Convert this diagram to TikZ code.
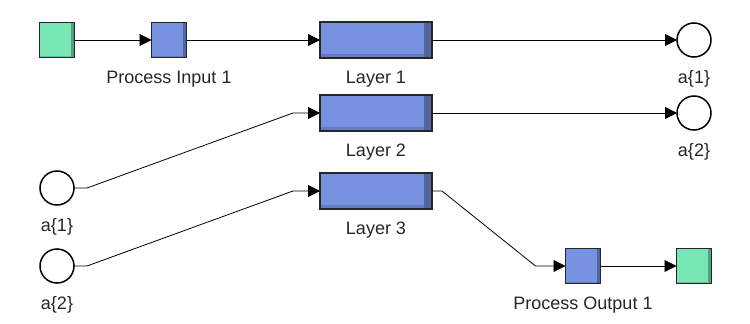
\documentclass[tikz,border=0pt]{standalone}
\usepackage{fontspec}
\setmainfont{Liberation Sans}
\usetikzlibrary{arrows.meta,positioning,calc}
\definecolor{blkgreen}{RGB}{120,230,180}
\definecolor{blkblue}{RGB}{120,146,226}
\tikzset{
  bevel/.style={path picture={
      \fill[black, opacity=0.3]
        ($(path picture bounding box.north east)+(-#1,0)$)
        rectangle (path picture bounding box.south east);
      \fill[black, opacity=0.15]
        ($(path picture bounding box.south west)+(0,#1/2)$)
        rectangle ($(path picture bounding box.south east)+(-#1,0)$);}},
  unit/.style={rectangle, draw=black!85, line width=1.6pt, fill=blkblue,
               minimum width=35pt, minimum height=35pt, inner sep=0pt,
               outer sep=0pt, bevel=3.5pt},
  port/.style={unit, fill=blkgreen},
  layer/.style={unit, minimum width=112pt, minimum height=36pt, bevel=8pt},
  signal/.style={circle, draw=black, line width=1.5pt, fill=white,
                 minimum size=34pt, inner sep=0pt, outer sep=0pt},
  arrow/.style={-{Triangle[length=12pt, width=12pt]}, line width=0.8pt}
}
\newcommand{\tagged}[3]{\node[#1, label={[anchor=base, label distance=#2,
  font=\fontsize{18}{20}\selectfont, text=black!85]below:#3}]}

\begin{document}
\begin{tikzpicture}[x=1pt, y=-1pt]
\useasboundingbox (0,0) rectangle (750,324);
% top row
\node[port] (src) at (57,40) {};
\tagged{unit}{25.5pt}{Process Input 1} (pin) at (169,40) {};
\tagged{layer}{25.5pt}{Layer 1} (lay1) at (376,40) {};
\tagged{signal}{26.5pt}{a\{1\}} (out1) at (694,40) {};
% middle rows
\tagged{layer}{25.5pt}{Layer 2} (lay2) at (376,113) {};
\tagged{signal}{26.5pt}{a\{2\}} (out2) at (694,113) {};
\tagged{signal}{26.5pt}{a\{1\}} (in1) at (57,188) {};
\tagged{layer}{25.5pt}{Layer 3} (lay3) at (376,191) {};
% bottom row
\tagged{signal}{26.5pt}{a\{2\}} (in2) at (57,266) {};
\tagged{unit}{25.5pt}{Process Output 1} (pout) at (583,266) {};
\node[port] (snk) at (694,266) {};

\draw[arrow] (src) -- (pin);
\draw[arrow] (pin) -- (lay1);
\draw[arrow] (lay1) -- (out1);
\draw[arrow] (lay2) -- (out2);
\draw[arrow] (in1.east) -- ++(13,0) -- ($(lay2.west)+(-27,0)$) -- (lay2.west);
\draw[arrow] (in2.east) -- ++(13,0) -- ($(lay3.west)+(-27,0)$) -- (lay3.west);
\draw[arrow] (lay3.east) -- ++(10,0) -- ($(pout.west)+(-30,0)$) -- (pout.west);
\draw[arrow] (pout) -- (snk);
\end{tikzpicture}
\end{document}
